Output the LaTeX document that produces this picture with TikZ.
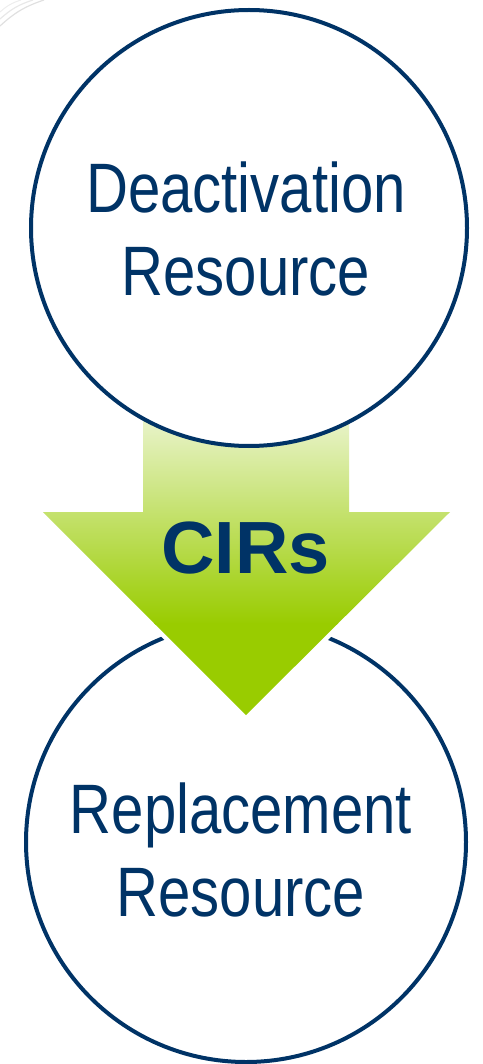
\documentclass[tikz,border=0pt]{standalone}
\usepackage{fontspec}
\setmainfont{Liberation Sans}
\newfontfamily\narrowsf{Liberation Sans}[FakeStretch=0.83]
\definecolor{navy}{HTML}{003366}
\definecolor{leaf}{HTML}{99CC00}
\definecolor{paleleaf}{HTML}{F4F9E6}

\begin{document}
\begin{tikzpicture}[x=1pt,y=-1pt]
                    \tikzstyle{ring}=[circle,draw=navy,line width=4pt,inner sep=0pt]
                    \tikzstyle{label}=[text=navy,align=center,inner sep=0pt]
                    \useasboundingbox (0,0) rectangle (482,1064);

                    \draw [black!12,line width=1.2pt] (0,26) to [bend left=12] (44,0);
                    \draw [black!9,line width=1.2pt] (0,19) to [bend left=12] (33,0);
                    \draw [black!7,line width=1pt] (0,12) to [bend left=12] (21,0);

                    \node (repl) at (246,842) [ring,minimum size=440pt] {};

                    \coordinate (sl) at (143,390);
                    \coordinate (sr) at (349,390);
                    \coordinate (tip) at (246,715);
                    \draw [white,line width=9pt,line join=miter] (sl) -- (143,512) -- (43,512) -- (tip) -- (450,512) -- (349,512) -- (sr) -- cycle;
                    \begin{scope}
                    \clip (sl) -- (143,512) -- (43,512) -- (tip) -- (450,512) -- (349,512) -- (sr) -- cycle;
                    \shade [top color=paleleaf,bottom color=leaf] (40,390) rectangle (455,624);
                    \fill [leaf] (40,623) rectangle (455,720);
                    \end{scope}

                    \node (deact) at (249,228) [ring,fill=white,minimum size=436pt] {};

                    \node (deactlbl) at (246,229) [label,font=\narrowsf\fontsize{70}{83}\selectfont] {Deactivation\\Resource};
                    \node (cirs) at (245.5,548.5) [label,font=\bfseries\fontsize{74}{80}\selectfont] {CIRs};
                    \node (repllbl) at (241,850) [label,font=\narrowsf\fontsize{70}{83}\selectfont] {Replacement\\Resource};
                \end{tikzpicture}
\end{document}
